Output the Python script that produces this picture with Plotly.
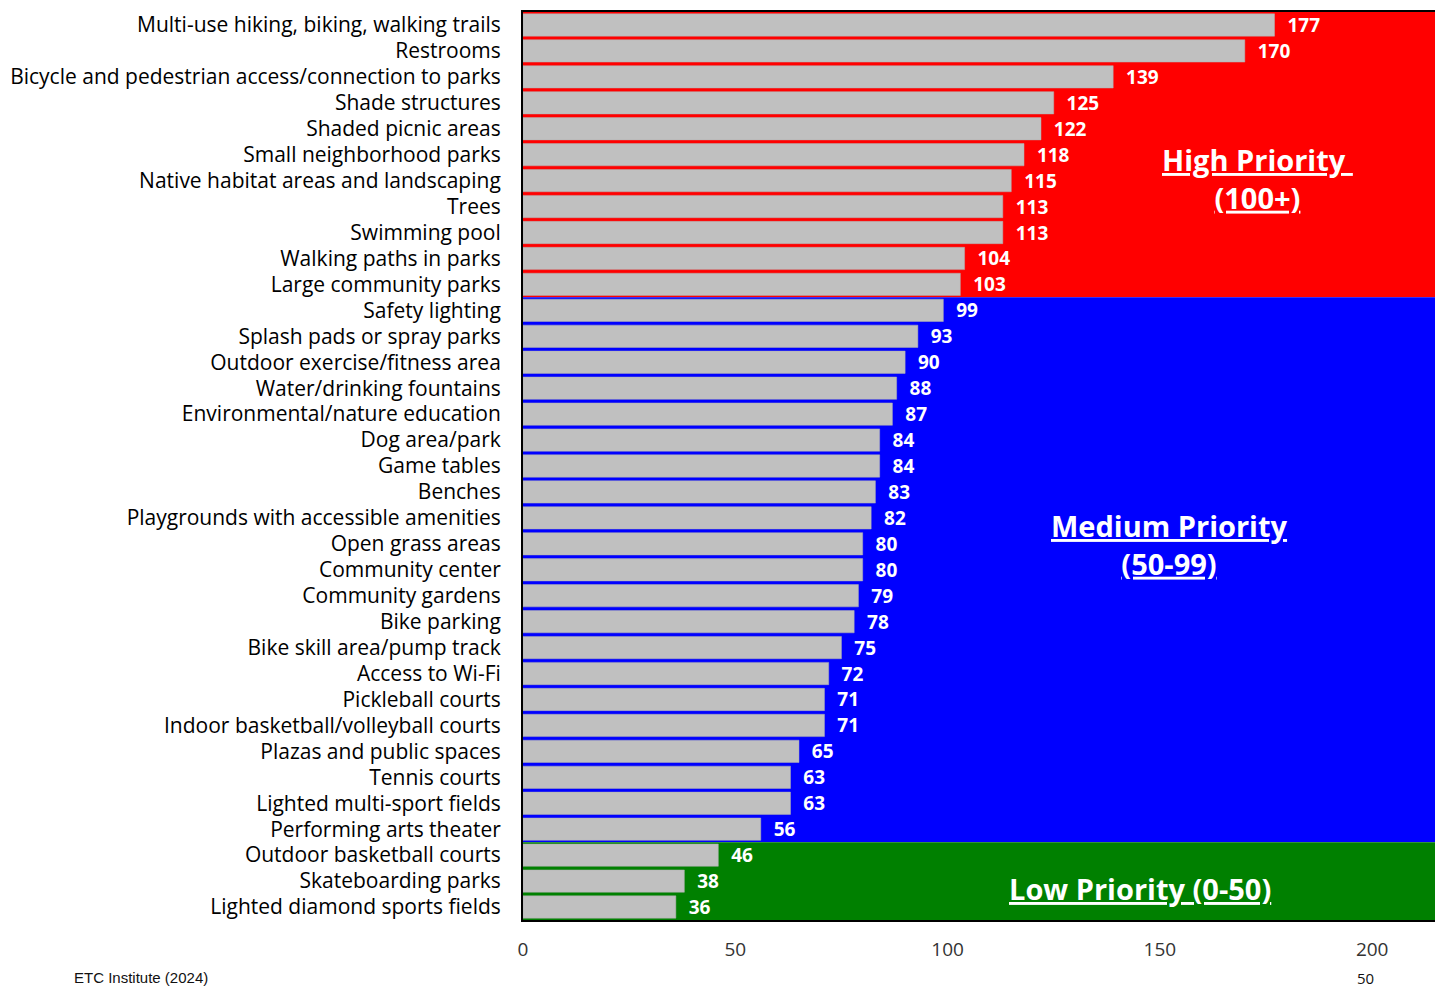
import plotly.graph_objects as go

categories = [
    "Multi-use hiking, biking, walking trails", "Restrooms",
    "Bicycle and pedestrian access/connection to parks", "Shade structures",
    "Shaded picnic areas", "Small neighborhood parks",
    "Native habitat areas and landscaping", "Trees", "Swimming pool",
    "Walking paths in parks", "Large community parks", "Safety lighting",
    "Splash pads or spray parks", "Outdoor exercise/fitness area",
    "Water/drinking fountains", "Environmental/nature education",
    "Dog area/park", "Game tables", "Benches",
    "Playgrounds with accessible amenities", "Open grass areas",
    "Community center", "Community gardens", "Bike parking",
    "Bike skill area/pump track", "Access to Wi-Fi", "Pickleball courts",
    "Indoor basketball/volleyball courts", "Plazas and public spaces",
    "Tennis courts", "Lighted multi-sport fields", "Performing arts theater",
    "Outdoor basketball courts", "Skateboarding parks",
    "Lighted diamond sports fields",
]
values = [177, 170, 139, 125, 122, 118, 115, 113, 113, 104, 103, 99, 93, 90,
          88, 87, 84, 84, 83, 82, 80, 80, 79, 78, 75, 72, 71, 71, 65, 63, 63,
          56, 46, 38, 36]
x_ticks = [0, 50, 100, 150, 200]

# priority bands: (first index, last index, colour)
bands = [(0, 10, "#FF0000"), (11, 31, "#0000FF"), (32, 34, "#008000")]

FONT = "Open Sans"

fig = go.Figure()
fig.add_trace(go.Bar(
    x=values, y=categories, orientation="h",
    marker=dict(color="#C0C0C0", line=dict(color="#B0B0B0", width=0.5)),
    text=[f"  {v}" for v in values], textposition="outside",
    outsidetextfont=dict(color="white", size=19, family=FONT, weight="bold"),
    constraintext="none", cliponaxis=False, width=0.86,
))

for i0, i1, col in bands:
    fig.add_shape(type="rect", xref="paper", yref="y", x0=0, x1=1,
                  y0=i0 - 0.5, y1=i1 + 0.5, fillcolor=col,
                  line=dict(width=0), layer="below")

ann_font = dict(family=FONT, size=29, color="white", weight="bold")
fig.add_annotation(x=173, y=0.817, xref="x", yref="paper", yanchor="middle",
                   text="<u>High Priority </u><br><u>(100+)</u>",
                   showarrow=False, font=ann_font, align="center")
fig.add_annotation(x=152.3, y=0.414, xref="x", yref="paper", yanchor="middle",
                   text="<u>Medium Priority</u><br><u>(50-99)</u>",
                   showarrow=False, font=ann_font, align="center")
fig.add_annotation(x=145.2, y=0.035, xref="x", yref="paper", yanchor="middle",
                   text="<u>Low Priority (0-50)</u>",
                   showarrow=False, font=ann_font, align="center")
fig.add_annotation(x=(64 - 515) / 915, y=(912 - 970) / 910, xref="paper", yref="paper",
                   text="ETC Institute (2024)", showarrow=False,
                   xanchor="left", yanchor="middle",
                   font=dict(family="Liberation Sans", size=15, color="#111"))
fig.add_annotation(x=(1368 - 515) / 915, y=(912 - 970) / 910, xref="paper", yref="paper",
                   text="50", showarrow=False, yanchor="middle",
                   font=dict(family=FONT, size=15, color="#111"))

fig.update_layout(
    width=1435, height=981,
    margin=dict(l=515, r=5, t=2, b=69),
    paper_bgcolor="white", plot_bgcolor="white",
    showlegend=False,
    font=dict(family=FONT, size=20, color="black"),
    xaxis=dict(range=[0, 215.5], tickvals=x_ticks, showgrid=False,
               zeroline=False, showline=True, linecolor="black", linewidth=2,
               mirror=True, ticks="", ticklabelstandoff=11,
               tickfont=dict(family=FONT, size=19, color="#333")),
    yaxis=dict(autorange="reversed", showgrid=False, showline=True,
               linecolor="black", linewidth=2, mirror=True, ticks="",
               ticklabelstandoff=16,
               tickfont=dict(family=FONT, size=21, color="black")),
)

fig.write_html("out.html")
